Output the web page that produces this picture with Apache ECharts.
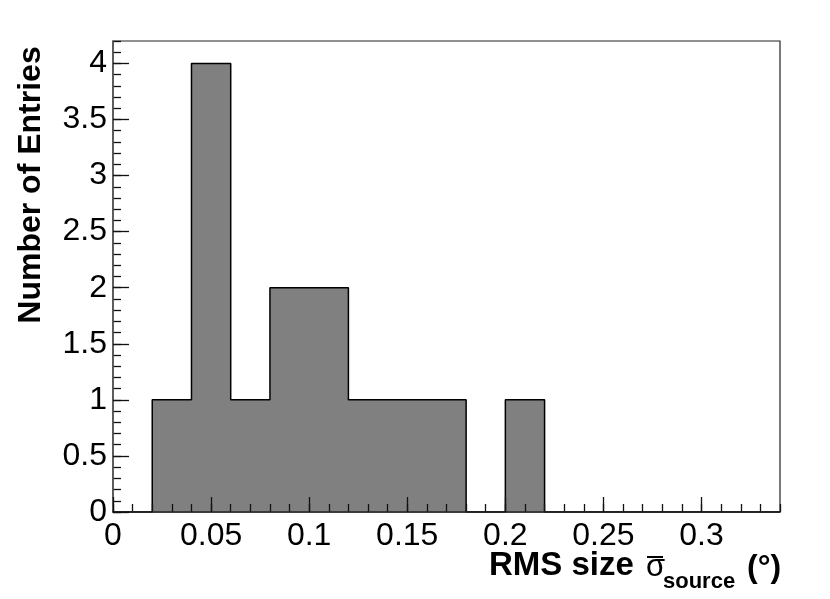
<!DOCTYPE html>
<html><head><meta charset="utf-8">
<script src="https://cdn.jsdelivr.net/npm/echarts@6/dist/echarts.min.js"></script>
<style>html,body{margin:0;padding:0;background:#fff}#c{width:830px;height:599px}</style>
</head><body><div id="c"></div>
<script>
// histogram bins (low edges), bin width 0.02
const binLowEdges = [0, 0.02, 0.04, 0.06, 0.08, 0.10, 0.12, 0.14, 0.16, 0.18, 0.20, 0.22, 0.24, 0.26, 0.28, 0.30, 0.32];
const binCounts   = [0, 1,    4,    1,    2,    2,    1,    1,    1,    0,    1,    0,    0,    0,    0,    0,    0];
const xRange = [0, 0.34];
const yRange = [0, 4.2];
const xMajorTicks = [0, 0.05, 0.1, 0.15, 0.2, 0.25, 0.3];
const yMajorTicks = [0, 0.5, 1, 1.5, 2, 2.5, 3, 3.5, 4];
const xMinorStep = 0.01;
const yMinorStep = 0.1;
const yTitle = 'Number of Entries';

const outline = binLowEdges.map((e, i) => [e, binCounts[i]]);
outline.push([xRange[1], 0]);

const FONT = '"Liberation Sans", Arial, Helvetica, sans-serif';
const chart = echarts.init(document.getElementById('c'), null, {renderer: 'canvas'});
chart.setOption({
  animation: false,
  backgroundColor: '#fff',
  grid: {left: 113, right: 50, top: 41, bottom: 87, show: true, borderColor: '#222', borderWidth: 1.2, backgroundColor: 'transparent'},
  xAxis: [
    {type: 'value', min: xRange[0], max: xRange[1], z: 10, position: 'bottom',
     axisLine: {show: true, lineStyle: {color: '#222', width: 1.5}},
     axisTick: {show: true, inside: true, length: 15, customValues: xMajorTicks, lineStyle: {color: '#111', width: 1.3}},
     axisLabel: {show: true, customValues: xMajorTicks, margin: 8, color: '#000', fontFamily: FONT, fontSize: 32},
     splitLine: {show: false}},
    {type: 'value', min: xRange[0], max: xRange[1], interval: xMinorStep, z: 9, position: 'bottom',
     axisLine: {show: false},
     axisTick: {show: true, inside: true, length: 8, lineStyle: {color: '#111', width: 1.3}},
     axisLabel: {show: false}, splitLine: {show: false}}
  ],
  yAxis: [
    {type: 'value', min: yRange[0], max: yRange[1], z: 10, position: 'left',
     axisLine: {show: true, lineStyle: {color: '#555', width: 1.5}},
     axisTick: {show: true, inside: true, length: 16, customValues: yMajorTicks, lineStyle: {color: '#111', width: 1.3}},
     axisLabel: {show: true, customValues: yMajorTicks, margin: 6, color: '#000', fontFamily: FONT, fontSize: 32},
     splitLine: {show: false}},
    {type: 'value', min: yRange[0], max: yRange[1], interval: yMinorStep, z: 9, position: 'left', offset: 0,
     axisLine: {show: false},
     axisTick: {show: true, inside: true, length: 8, lineStyle: {color: '#111', width: 1.3}},
     axisLabel: {show: false}, splitLine: {show: false}}
  ],
  series: [{
    type: 'line', xAxisIndex: 0, yAxisIndex: 0, step: 'end', data: outline,
    showSymbol: false, symbol: 'none',
    lineStyle: {color: '#000', width: 1.5},
    areaStyle: {color: '#808080', opacity: 1, origin: 'start'},
    z: 2
  }],
  graphic: [
    {type: 'text', x: 31, y: 185, rotation: Math.PI / 2, z: 20,
     style: {text: yTitle, font: 'bold 32px ' + FONT, fill: '#000', align: 'center', verticalAlign: 'middle'}},
    {type: 'text', x: 489, y: 566, z: 20,
     style: {text: 'RMS size', font: 'bold 33px ' + FONT, fill: '#000', align: 'left', verticalAlign: 'middle'}},
    {type: 'text', x: 646, y: 567, z: 20,
     style: {text: 'σ', font: '31px ' + FONT, fill: '#000', align: 'left', verticalAlign: 'middle'}},
    {type: 'line', z: 20, shape: {x1: 647, y1: 557, x2: 663, y2: 557}, style: {stroke: '#000', lineWidth: 2}},
    {type: 'text', x: 663, y: 582, z: 20,
     style: {text: 'source', font: 'bold 22px ' + FONT, fill: '#000', align: 'left', verticalAlign: 'middle'}},
    {type: 'text', x: 747, y: 568, z: 20,
     style: {text: '(°)', font: 'bold 32px ' + FONT, fill: '#000', align: 'left', verticalAlign: 'middle'}}
  ]
});
</script></body></html>
